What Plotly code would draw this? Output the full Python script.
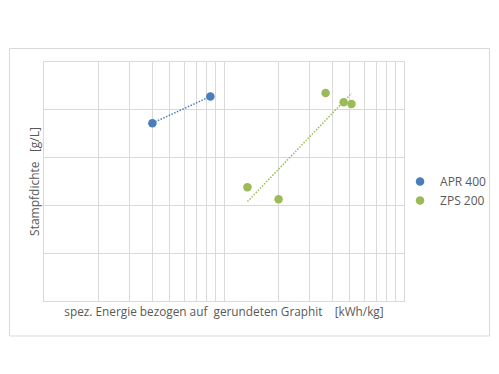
import numpy as np
import plotly.graph_objects as go

# Data (x on log scale, arbitrary units)
apr_x = [4.0, 8.4]
apr_y = [372, 428]
zps_x = [13.5, 20.1, 36.7, 46.2, 51.1]
zps_y = [238, 213, 435, 416, 412]
series_names = ["APR 400", "ZPS 200"]
x_title = "spez. Energie bezogen auf\u00a0\u00a0gerundeten Graphit\u00a0\u00a0\u00a0\u00a0[kWh/kg]"
y_title = "Stampfdichte\u00a0\u00a0\u00a0[g/L]"

blue = "#4A7EBB"
green = "#9BBB59"

def log_trend(xs, ys):
    lx = np.log10(xs)
    b, a = np.polyfit(lx, ys, 1)
    xx = np.array([min(xs), max(xs)])
    return xx, a + b * np.log10(xx)

fig = go.Figure()
for xs, ys, name, col in [(apr_x, apr_y, series_names[0], blue), (zps_x, zps_y, series_names[1], green)]:
    tx, ty = log_trend(xs, ys)
    fig.add_trace(go.Scatter(x=tx, y=ty, mode="lines", line=dict(color=col, width=1.5, dash="1.5px,1.5px"),
                             showlegend=False, hoverinfo="skip"))
for xs, ys, name, col in [(apr_x, apr_y, series_names[0], blue), (zps_x, zps_y, series_names[1], green)]:
    fig.add_trace(go.Scatter(x=xs, y=ys, mode="markers", name=name,
                             marker=dict(color=col, size=8.5)))

xticks = [m * 10 ** e for e in (0, 1) for m in range(1, 10)] + [100]
grid = "#D9D9D9"
fig.update_layout(
    width=499, height=374,
    margin=dict(l=44, r=95, t=62, b=73, autoexpand=False),
    paper_bgcolor="white", plot_bgcolor="white",
    font=dict(family="Open Sans, Liberation Sans, sans-serif", color="#595959", size=12),
    xaxis=dict(type="log", range=[0, 2], tickvals=xticks, showticklabels=False, ticks="",
               showgrid=True, gridcolor=grid, gridwidth=1, zeroline=False,
               showline=True, mirror=True, linecolor=grid, linewidth=1,
               title=dict(text=x_title, font=dict(size=11.8, color="#595959"), standoff=6)),
    yaxis=dict(range=[0, 500], dtick=100, showticklabels=False, ticks="",
               showgrid=True, gridcolor=grid, gridwidth=1, zeroline=False,
               showline=True, mirror=True, linecolor=grid, linewidth=1,
               title=dict(text=y_title, font=dict(size=12, color="#595959"), standoff=0)),
    legend=dict(x=0.989, y=0.46, xanchor="left", yanchor="middle",
                font=dict(size=12, color="#595959"), itemwidth=30, bgcolor="rgba(0,0,0,0)"),
    shapes=[dict(type="rect", xref="paper", yref="paper",
                 x0=-0.0958, x1=1.2375, y0=-0.1464, y1=1.0565,
                 line=dict(color="#D9D9D9", width=1), fillcolor="rgba(0,0,0,0)", layer="below")],
)
fig.write_html("out.html")
